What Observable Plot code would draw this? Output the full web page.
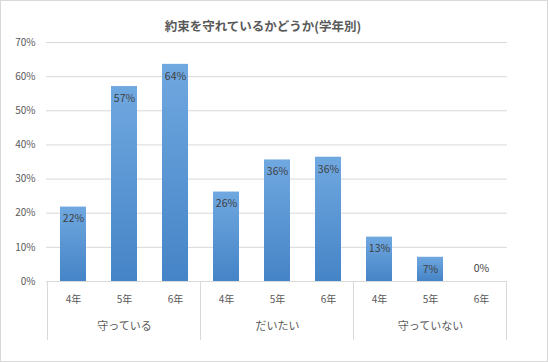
<!DOCTYPE html>
<html><head><meta charset="utf-8">
<script src="https://cdn.jsdelivr.net/npm/d3@7"></script>
<script src="https://cdn.jsdelivr.net/npm/@observablehq/plot@0.6"></script>
<style>
body{margin:0;background:#fff}
#chart svg{display:block;outline:1px solid #d9d9d9;outline-offset:-1px}
</style>
</head><body><div id="chart"></div>
<script>
const title = "約束を守れているかどうか(学年別)";
const groups = ["守っている", "だいたい", "守っていない"];
const grades = ["4年", "5年", "6年"];
const keep = [0.218, 0.571, 0.636];
const mostly = [0.262, 0.356, 0.364];
const notKeep = [0.130, 0.071, 0.0];
const yTicks = [0, 0.1, 0.2, 0.3, 0.4, 0.5, 0.6, 0.7];

const series = [keep, mostly, notKeep];
const data = [];
groups.forEach((g, gi) => grades.forEach((gr, i) => data.push({group: g, grade: gr, key: g + "|" + gr, value: series[gi][i]})));
const fmt = d3.format(".0%");
const font = "'Noto Sans CJK JP', 'Noto Sans', sans-serif";

const defs = () => {
  const d = d3.create("svg:defs");
  const lg = d.append("linearGradient").attr("id", "barGrad").attr("x1", 0).attr("y1", 0).attr("x2", 0).attr("y2", 1);
  lg.append("stop").attr("offset", "0%").attr("stop-color", "#70a8e0");
  lg.append("stop").attr("offset", "100%").attr("stop-color", "#4584c7");
  return d.node();
};

const plot = Plot.plot({
  width: 548, height: 362,
  marginLeft: 46, marginRight: 41, marginTop: 42, marginBottom: 81,
  style: {fontFamily: font, fontSize: "10px", color: "#595959", background: "#fff", overflow: "visible"},
  x: {domain: data.map(d => d.key), paddingInner: 0.5, paddingOuter: 0.25, axis: null},
  y: {domain: [0, 0.7], axis: null},
  marks: [
    defs,
    Plot.ruleY(yTicks, {stroke: "#d9d9d9", strokeWidth: 1}),
    Plot.barY(data, {x: "key", y: "value", fill: "url(#barGrad)"}),
    Plot.axisY({ticks: yTicks, tickSize: 0, tickPadding: 11, tickFormat: d3.format(".0%"), label: null, fill: "#595959", fontSize: 10}),
    Plot.axisX({tickSize: 0, tickPadding: 14, tickFormat: d => d.split("|")[1], label: null, fill: "#595959", fontSize: 10}),
    Plot.text(data.filter(d => d.value > 0), {x: "key", y: "value", text: d => fmt(d.value), dy: 12, fill: "#404040", fontSize: 10.5}),
    Plot.text(data.filter(d => d.value === 0), {x: "key", y: "value", text: d => fmt(d.value), dy: -13, fill: "#404040", fontSize: 10.5}),
    Plot.text(groups, {x: g => g + "|5年", frameAnchor: "bottom", text: d => d, dy: 48, fill: "#595959", fontSize: 11}),
    Plot.text([title], {frameAnchor: "top", dy: -20, dx: -14, text: d => d, fill: "#595959", fontSize: 12.5, fontWeight: "bold"})
  ]
});

// group separator lines below the axis, positioned from the plot's x scale
const xs = plot.scale("x");
const gap = (xs.step - xs.bandwidth) / 2;
const y0 = 362 - 81;
const bounds = groups.map(g => xs.apply(g + "|" + grades[0]) - gap);
bounds.push(xs.apply(groups[groups.length - 1] + "|" + grades[grades.length - 1]) + xs.bandwidth + gap);
const sel = d3.select(plot);
bounds.forEach(x => {
  sel.append("line").attr("x1", x).attr("x2", x).attr("y1", y0).attr("y2", y0 + 59)
    .attr("stroke", "#d9d9d9").attr("stroke-width", 1);
});
document.getElementById("chart").appendChild(plot);
</script>
</body></html>
